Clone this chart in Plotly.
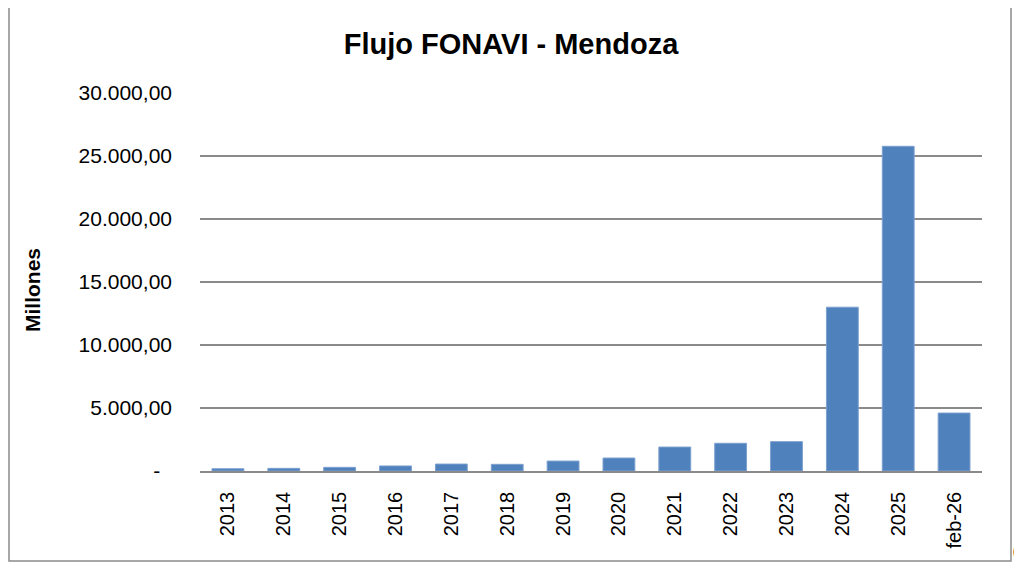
import plotly.graph_objects as go

categories = ["2013", "2014", "2015", "2016", "2017", "2018", "2019", "2020",
              "2021", "2022", "2023", "2024", "2025", "feb-26"]
values = [180, 210, 290, 400, 550, 530, 790, 1030, 1900, 2200, 2330, 13000, 25770, 4600]
y_tickvals = [0, 5000, 10000, 15000, 20000, 25000, 30000]
y_ticktext = ["-\u00a0\u00a0", "5.000,00", "10.000,00", "15.000,00",
              "20.000,00", "25.000,00", "30.000,00"]

OFF = 8  # page body margin
W, H = 1022 - OFF, 564 - OFF
# plot area in page pixels: x 200..982, y 93..471
L = 200 - OFF
T = 93 - OFF
R = W - (982 - OFF)
B = H - (471 - OFF)
pw, ph = W - L - R, H - T - B

def px(x):
    return (x - OFF - L) / pw

def py(y):
    return (H - B - (y - OFF)) / ph

FONT = "Liberation Sans, Arial, sans-serif"
GRID = "#8a8a8a"

fig = go.Figure(go.Bar(
    x=categories, y=values,
    marker=dict(color="#4F81BD", line=dict(color="#7DA0CF", width=1)),
))

fig.update_layout(
    width=W, height=H,
    margin=dict(l=L, r=R, t=T, b=B),
    paper_bgcolor="white", plot_bgcolor="white",
    bargap=0.43,
    showlegend=False,
    font=dict(family=FONT, color="black", size=21),
    title=dict(text="<b>Flujo FONAVI - Mendoza</b>", x=(511 - OFF) / W, xanchor="center",
               y=1 - (44 - OFF) / H, yanchor="middle", font=dict(size=29, family=FONT, color="black")),
    xaxis=dict(type="category", showgrid=False, showline=True, linecolor=GRID, linewidth=1.5,
               tickangle=-90, tickfont=dict(size=20), ticks="", ticklabelstandoff=11),
    yaxis=dict(range=[0, 30000], tickvals=y_tickvals, ticktext=y_ticktext,
               showgrid=True, gridcolor=GRID, gridwidth=1.5, zeroline=False, showline=False,
               ticks="", tickfont=dict(size=21), ticklabelstandoff=27),
    shapes=[dict(type="rect", xref="paper", yref="paper",
                 x0=px(9), x1=px(1011), y0=py(561), y1=py(6),
                 line=dict(color="#8c8c8c", width=1.5), fillcolor="rgba(0,0,0,0)")],
    annotations=[
        dict(text="<b>Millones</b>", textangle=-90, xref="paper", yref="paper",
             x=px(32), y=py(290), xanchor="center", yanchor="middle", showarrow=False,
             font=dict(size=21, family=FONT, color="black")),
        dict(text="0", xref="paper", yref="paper", x=px(1011), y=py(551),
             xanchor="left", yanchor="middle", showarrow=False,
             font=dict(size=24, family="Carlito, Liberation Sans, sans-serif", color="black")),
    ],
)

fig.write_html("out.html")
